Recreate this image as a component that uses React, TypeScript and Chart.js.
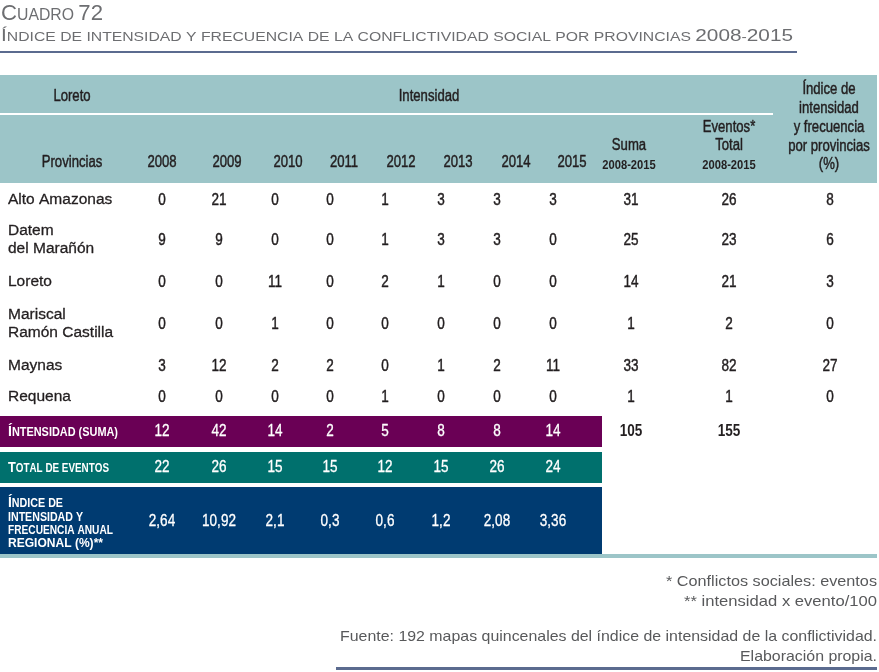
import React, { useEffect, useRef } from 'react';
import { Chart, registerables } from 'chart.js';

Chart.register(...registerables);

const W = 879;
const H = 672;

// ---------- data ----------
const years = ['2008', '2009', '2010', '2011', '2012', '2013', '2014', '2015'];
const provinces = ['Alto Amazonas', 'Datem|del Marañón', 'Loreto', 'Mariscal|Ramón Castilla', 'Maynas', 'Requena'];
const altoAmazonas = [0, 21, 0, 0, 1, 3, 3, 3];
const datemDelMaranon = [9, 9, 0, 0, 1, 3, 3, 0];
const loreto = [0, 0, 11, 0, 2, 1, 0, 0];
const mariscalRamonCastilla = [0, 0, 1, 0, 0, 0, 0, 0];
const maynas = [3, 12, 2, 2, 0, 1, 2, 11];
const requena = [0, 0, 0, 0, 1, 0, 0, 0];
const sumaProvincias = [31, 25, 14, 1, 33, 1];
const eventosProvincias = [26, 23, 21, 2, 82, 1];
const indiceProvincias = [8, 6, 3, 0, 27, 0];
const intensidadSuma = [12, 42, 14, 2, 5, 8, 8, 14];
const totalEventos = [22, 26, 15, 15, 12, 15, 26, 24];
const indiceAnual = [2.64, 10.92, 2.1, 0.3, 0.6, 1.2, 2.08, 3.36];
const totalSuma = 105;
const totalEventosSuma = 155;
const provinceRows = [altoAmazonas, datemDelMaranon, loreto, mariscalRamonCastilla, maynas, requena];

// ---------- layout (table geometry, in scale units) ----------
const yearCellX = [162, 219, 275, 330, 385, 441, 497, 553];
const yearHeadX = [162, 227, 288, 344, 401, 458, 516, 572];
const sumaX = 631;
const eventosX = 729;
const indiceX = 830;
const rowY = [200, 240, 282, 324, 366, 397];

const FAM = "'Liberation Sans', Arial, Helvetica, sans-serif";
const DARK = '#231f20';
const BAND = '#9cc5c8';
const PURPLE = '#6a0055';
const TEAL = '#00706d';
const NAVY = '#003b71';
const GRAY = '#6d6e71';
const FOOT = '#58595b';
const RULE = '#5b6b8f';

const fmt = (v: number) => String(v).replace('.', ',');

function txt(ctx: CanvasRenderingContext2D, s: string, x: number, y: number, font: string, color: string,
  align: CanvasTextAlign = 'center', sx = 1, baseline: CanvasTextBaseline = 'middle', stroke = 0) {
  ctx.save();
  ctx.font = font;
  ctx.fillStyle = color;
  ctx.textAlign = align;
  ctx.textBaseline = baseline;
  ctx.translate(x, y);
  ctx.scale(sx, 1);
  ctx.fillText(s, 0, 0);
  if (stroke > 0) {
    ctx.strokeStyle = color;
    ctx.lineWidth = stroke;
    ctx.lineJoin = 'round';
    ctx.strokeText(s, 0, 0);
  }
  ctx.restore();
}

function fitRight(ctx: CanvasRenderingContext2D, s: string, xr: number, y: number, font: string, color: string, target: number) {
  ctx.save();
  ctx.font = font;
  const w = ctx.measureText(s).width;
  ctx.restore();
  txt(ctx, s, xr, y, font, color, 'right', target / w, 'alphabetic');
}

function smallCaps(ctx: CanvasRenderingContext2D, s: string, x: number, y: number, big: number, small: number,
  weight: string, color: string, target?: number) {
  const segs = Array.from(s).map((ch) => {
    const isBig = (/[0-9]/.test(ch)) || (ch !== ch.toLowerCase() && ch === ch.toUpperCase());
    return { t: ch.toUpperCase(), size: isBig ? big : small, w: 0 };
  });
  let total = 0;
  ctx.save();
  segs.forEach((sg) => {
    ctx.font = `${weight} ${sg.size}px ${FAM}`;
    sg.w = ctx.measureText(sg.t).width;
    total += sg.w;
  });
  const sx = target ? target / total : 1;
  ctx.fillStyle = color;
  ctx.textBaseline = 'alphabetic';
  ctx.textAlign = 'left';
  ctx.translate(x, y);
  ctx.scale(sx, 1);
  let cx = 0;
  segs.forEach((sg) => {
    ctx.font = `${weight} ${sg.size}px ${FAM}`;
    ctx.fillText(sg.t, cx, 0);
    cx += sg.w;
  });
  ctx.restore();
}

const tablePlugin = {
  id: 'tablePlugin',
  afterDraw(chart: any) {
    const ctx: CanvasRenderingContext2D = chart.ctx;
    const xs = chart.scales.x;
    const ys = chart.scales.y;
    const X = (v: number) => xs.getPixelForValue(v);
    const Y = (v: number) => ys.getPixelForValue(v);
    const rect = (x0: number, y0: number, x1: number, y1: number, c: string) => {
      ctx.fillStyle = c;
      ctx.fillRect(X(x0), Y(y0), X(x1) - X(x0), Y(y1) - Y(y0));
    };
    const HEAD = `16px ${FAM}`;
    const HS = 0.82;
    const NUM = `16.5px ${FAM}`;
    const NS = 0.82;
    const SW = 0.45;

    // Title
    smallCaps(ctx, 'Cuadro 72', X(1), Y(19.5), 22.5, 16, '400', GRAY, 102);
    smallCaps(ctx, 'Índice de intensidad y frecuencia de la conflictividad social por provincias 2008-2015',
      X(1), Y(41), 16.5, 12.5, '400', GRAY, 792);
    rect(0, 51, 797, 53, RULE);

    // Header band
    rect(0, 75, 877, 183, BAND);
    rect(0, 113, 773, 115, '#ffffff');
    txt(ctx, 'Loreto', X(72), Y(97), HEAD, DARK, 'center', HS, 'middle', SW);
    txt(ctx, 'Intensidad', X(429), Y(97), HEAD, DARK, 'center', HS, 'middle', SW);
    txt(ctx, 'Provincias', X(72), Y(163), HEAD, DARK, 'center', HS, 'middle', SW);
    years.forEach((yr, i) => txt(ctx, yr, X(yearHeadX[i]), Y(163), HEAD, DARK, 'center', HS, 'middle', SW));
    const BOLDS = `bold 13px ${FAM}`;
    txt(ctx, 'Suma', X(sumaX - 2), Y(146), HEAD, DARK, 'center', HS, 'middle', SW);
    txt(ctx, '2008-2015', X(sumaX - 2), Y(165), BOLDS, DARK, 'center', 0.86);
    txt(ctx, 'Eventos*', X(eventosX), Y(128), HEAD, DARK, 'center', HS, 'middle', SW);
    txt(ctx, 'Total', X(eventosX), Y(146), HEAD, DARK, 'center', HS, 'middle', SW);
    txt(ctx, '2008-2015', X(eventosX), Y(165), BOLDS, DARK, 'center', 0.86);
    ['Índice de', 'intensidad', 'y frecuencia', 'por provincias', '(%)'].forEach((s, i) =>
      txt(ctx, s, X(indiceX - 1), Y(90 + i * 18.7), HEAD, DARK, 'center', HS, 'middle', SW));

    // Province rows
    provinces.forEach((p, r) => {
      const lines = p.split('|');
      const cy = rowY[r];
      lines.forEach((l, k) => {
        const ly = lines.length === 1 ? cy : cy - 9 + k * 18;
        txt(ctx, l, X(8), Y(ly), `15.5px ${FAM}`, DARK, 'left', 1, 'middle', 0.3);
      });
      provinceRows[r].forEach((v, i) => txt(ctx, String(v), X(yearCellX[i]), Y(cy), NUM, DARK, 'center', NS, 'middle', SW));
      txt(ctx, String(sumaProvincias[r]), X(sumaX), Y(cy), NUM, DARK, 'center', NS, 'middle', SW);
      txt(ctx, String(eventosProvincias[r]), X(eventosX), Y(cy), NUM, DARK, 'center', NS, 'middle', SW);
      txt(ctx, String(indiceProvincias[r]), X(indiceX), Y(cy), NUM, DARK, 'center', NS, 'middle', SW);
    });

    // Colored summary rows
    rect(0, 416, 602, 447, PURPLE);
    rect(0, 452, 602, 483, TEAL);
    rect(0, 487, 602, 554, NAVY);
    rect(0, 554, 877, 558, BAND);

    smallCaps(ctx, 'Íntensidad (suma)', X(8), Y(436), 15.5, 12, 'bold', '#ffffff', 110);
    smallCaps(ctx, 'Total de eventos', X(8), Y(471.5), 15.5, 12, 'bold', '#ffffff', 101);
    smallCaps(ctx, 'Índice de', X(8), Y(507), 15.5, 12, 'bold', '#ffffff', 55);
    smallCaps(ctx, 'intensidad y', X(8), Y(520.5), 12, 12, 'bold', '#ffffff', 75);
    smallCaps(ctx, 'frecuencia anual', X(8), Y(533.5), 12, 12, 'bold', '#ffffff', 105);
    smallCaps(ctx, 'regional (%)**', X(8), Y(547), 12, 12, 'bold', '#ffffff', 95);

    intensidadSuma.forEach((v, i) => txt(ctx, String(v), X(yearCellX[i]), Y(431), NUM, '#ffffff', 'center', NS, 'middle', 0.3));
    totalEventos.forEach((v, i) => txt(ctx, String(v), X(yearCellX[i]), Y(467), NUM, '#ffffff', 'center', NS, 'middle', 0.3));
    indiceAnual.forEach((v, i) => txt(ctx, fmt(v), X(yearCellX[i]), Y(521), NUM, '#ffffff', 'center', NS, 'middle', 0.3));
    txt(ctx, String(totalSuma), X(sumaX), Y(431), `bold 16.5px ${FAM}`, DARK, 'center', NS);
    txt(ctx, String(totalEventosSuma), X(eventosX), Y(431), `bold 16.5px ${FAM}`, DARK, 'center', NS);

    // Footer
    const FF = `15px ${FAM}`;
    fitRight(ctx, '* Conflictos sociales: eventos', X(877), Y(586), FF, FOOT, 211);
    fitRight(ctx, '** intensidad x evento/100', X(877), Y(606), FF, FOOT, 193);
    fitRight(ctx, 'Fuente: 192 mapas quincenales del índice de intensidad de la conflictividad.', X(877), Y(641), FF, FOOT, 537);
    fitRight(ctx, 'Elaboración propia.', X(877), Y(661), FF, FOOT, 137);
    rect(336, 667, 877, 670, RULE);
  },
};

export default function App() {
  const ref = useRef<HTMLCanvasElement | null>(null);
  useEffect(() => {
    if (!ref.current) return;
    const chart = new Chart(ref.current, {
      type: 'scatter',
      data: { datasets: [] },
      options: {
        animation: false,
        responsive: false,
        events: [],
        layout: { padding: 0 },
        plugins: { legend: { display: false }, tooltip: { enabled: false }, title: { display: false } },
        scales: {
          x: { type: 'linear', min: 0, max: W, display: false },
          y: { type: 'linear', min: 0, max: H, reverse: true, display: false },
        },
      },
      plugins: [tablePlugin],
    } as any);
    return () => chart.destroy();
  }, []);
  return (
    <div style={{ position: 'absolute', left: 0, top: 0, width: W, height: H, background: '#ffffff' }}>
      <canvas ref={ref} width={W} height={H} style={{ display: 'block', width: W, height: H }} />
    </div>
  );
}
